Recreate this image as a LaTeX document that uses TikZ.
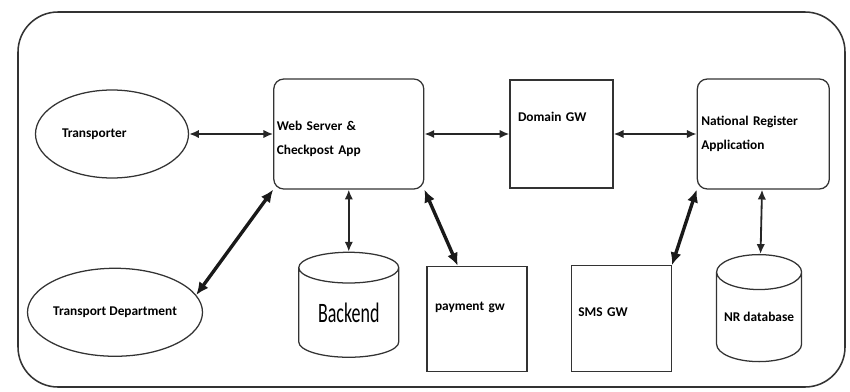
\documentclass[tikz,border=0pt]{standalone}
\usepackage{fontspec}
\setmainfont{Carlito}
\usetikzlibrary{positioning,shapes.geometric,arrows.meta}

\tikzset{
  actor/.style={draw=black!80, line width=0.9pt, ellipse, minimum width=3.825cm,
    minimum height=2.2cm, inner sep=0pt, font=\fontsize{9.5}{11}\selectfont\bfseries},
  appbox/.style={draw=black!80, line width=0.9pt, rounded corners=0.25cm, inner sep=0pt,
    align=left, font=\fontsize{9.5}{17.5}\selectfont\bfseries},
  gwbox/.style={draw=black!80, line width=0.9pt, inner sep=0pt, align=left,
    font=\fontsize{9.5}{11}\selectfont\bfseries},
  store/.style={draw=black!80, line width=0.9pt, cylinder, shape border rotate=90,
    aspect=0.5, inner sep=0pt, font=\fontsize{9.5}{11}\selectfont\bfseries},
  link/.style={{Latex[length=7pt,width=6pt]}-{Latex[length=7pt,width=6pt]},
    line width=1.3pt, black!85},
  thicklink/.style={{Latex[length=9pt,width=8pt]}-{Latex[length=9pt,width=8pt]},
    line width=2.4pt, black!90},
}

\begin{document}
\begin{tikzpicture}
  \useasboundingbox (0,0) rectangle (21.25,9.775);

  % upper row
  \node[actor, align=left, text width=2.5cm] at (2.8,6.425) (transporter) {Transporter}; %
  \node[appbox, right=2.1 of transporter, minimum width=3.75cm, minimum height=2.75cm,
    text width=3.6cm, text depth=12pt] (web) {Web Server \&\\Checkpost App}; %
  \node[gwbox, right=2.125 of web, minimum width=2.575cm, minimum height=2.7cm,
    text width=2.175cm, text depth=24pt] (domain-gw) {Domain GW}; %
  \node[appbox, right=2.075 of domain-gw, minimum width=3.3cm, minimum height=2.75cm,
    text width=3.1cm] (nr-app) {National Register\\Application}; %

  % lower row
  \node[actor, below=2.225 of transporter, xshift=0.075cm] (transport-dept) {Transport Department}; %
  \node[store, below=1.55 of web, minimum width=2.5cm, minimum height=2.625cm]
    (backend) {\mdseries\scalebox{0.64}[1]{\fontsize{20}{20}\selectfont Backend}}; %
  \node[gwbox, right=0.675 of backend, yshift=-0.15cm, minimum width=2.5cm,
    minimum height=2.625cm, text width=2.1cm, text depth=18pt] (payment-gw) {payment gw}; %
  \node[gwbox, right=1.075 of payment-gw, minimum width=2.5cm, minimum height=2.65cm,
    text width=2.15cm, text depth=10pt] (sms-gw) {SMS GW}; %
  \node[store, right=1.1 of sms-gw, yshift=0.04cm, minimum width=2.125cm,
    minimum height=2.675cm] (nr-db) {NR database}; %

  \draw[link] (transporter) -- (web);
  \draw[link] (web) -- (domain-gw);
  \draw[link] (domain-gw) -- (nr-app);
  \draw[link] (web) -- (backend);
  \draw[link] (nr-app) -- (nr-db);
  \draw[thicklink] (web.south west) -- (transport-dept.12);
  \draw[thicklink] (web.south east) -- (payment-gw.110);
  \draw[thicklink] (sms-gw.north east) -- (nr-app.south west);

  % outer frame
  \draw[black!80, line width=1.1pt, rounded corners=1cm] (0.45,0.1) rectangle (21.125,9.475);

\end{tikzpicture}
\end{document}
